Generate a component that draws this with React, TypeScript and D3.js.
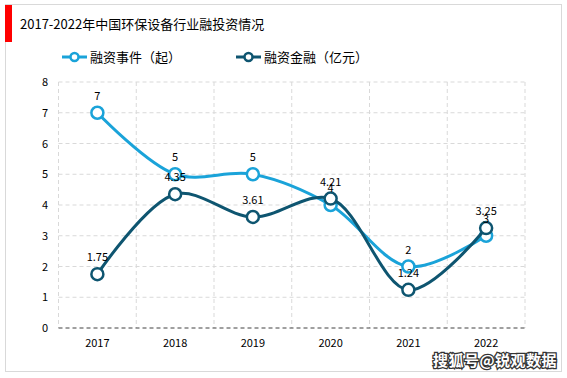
import React from "react";
import * as d3 from "d3";

const years = ["2017", "2018", "2019", "2020", "2021", "2022"];
const events = [7, 5, 5, 4, 2, 3];
const amounts = [1.75, 4.35, 3.61, 4.21, 1.24, 3.25];
const eventLabels = ["7", "5", "5", "4", "2", "3"];
const amountLabels = ["1.75", "4.35", "3.61", "4.21", "1.24", "3.25"];
const yTicks = [0, 1, 2, 3, 4, 5, 6, 7, 8];
const seriesNames = ["融资事件（起）", "融资金融（亿元）"];
const title = "2017-2022年中国环保设备行业融投资情况";

const W = 567, H = 378;
const plot = { left: 58.5, right: 525, top: 82, bottom: 328 };
const C1 = "#1aa3d9";
const C2 = "#0e5570";
const FONT = "'Microsoft YaHei','Noto Sans CJK SC','Liberation Sans',sans-serif";

export default function App() {
  const x = d3.scaleBand().domain(years).range([plot.left, plot.right]);
  const y = d3.scaleLinear().domain([0, 8]).range([plot.bottom, plot.top]);
  const cx = (yr: string) => (x(yr) as number) + x.bandwidth() / 2;
  const line = d3.line<number>()
    .x((_, i) => cx(years[i]))
    .y((d) => y(d))
    .curve(d3.curveCatmullRom.alpha(0.5));
  const series = [
    { vals: events, labels: eventLabels, color: C1 },
    { vals: amounts, labels: amountLabels, color: C2 },
  ];
  return (
    <svg width={W} height={H} style={{ position: "absolute", left: 0, top: 0, fontFamily: FONT }}>
      <rect x={0} y={0} width={W} height={H} fill="#fff" />
      <rect x={5.5} y={4.5} width={556} height={367} fill="#fff" stroke="#d9d9d9" strokeWidth={1} />
      <rect x={5} y={5} width={7} height={37} fill="#ff0000" />
      <text x={20} y={29} fontSize={13} fill="#000">{title}</text>
      {/* legend */}
      {[0, 1].map((i) => {
        const lx = i === 0 ? 62 : 236;
        const col = i === 0 ? C1 : C2;
        return (
          <g key={i}>
            <line x1={lx} x2={lx + 25} y1={57} y2={57} stroke={col} strokeWidth={3} />
            <circle cx={lx + 12.5} cy={57} r={4} fill="#fff" stroke={col} strokeWidth={2.5} />
            <text x={lx + 28} y={62} fontSize={13} fill="#000">{seriesNames[i]}</text>
          </g>
        );
      })}
      {/* grid */}
      {yTicks.filter((t) => t > 0).map((t) => (
        <line key={t} x1={plot.left} x2={plot.right} y1={y(t)} y2={y(t)} stroke="#d9d9d9" strokeDasharray="4,3" />
      ))}
      {years.map((yr) => (
        <line key={yr} x1={(x(yr) as number) + x.bandwidth()} x2={(x(yr) as number) + x.bandwidth()} y1={plot.top} y2={plot.bottom} stroke="#d9d9d9" strokeDasharray="4,3" />
      ))}
      <line x1={plot.left} x2={plot.left} y1={plot.top} y2={plot.bottom} stroke="#d9d9d9" strokeDasharray="4,3" />
      <line x1={plot.left} x2={plot.right} y1={plot.bottom} y2={plot.bottom} stroke="#404040" strokeDasharray="4,3" />
      {yTicks.map((t) => (
        <text key={t} x={48} y={y(t) + 4} fontSize={11} textAnchor="end" fill="#000">{t}</text>
      ))}
      {years.map((yr) => (
        <text key={yr} x={cx(yr)} y={plot.bottom + 19} fontSize={11} textAnchor="middle" fill="#000">{yr}</text>
      ))}
      {series.map((s, si) => (
        <g key={si}>
          <path d={line(s.vals) || ""} fill="none" stroke={s.color} strokeWidth={3} />
          {s.vals.map((v, i) => (
            <circle key={i} cx={cx(years[i])} cy={y(v)} r={6} fill="#fff" stroke={s.color} strokeWidth={2.5} />
          ))}
        </g>
      ))}
      {series.map((s, si) => (
        <g key={"l" + si}>
          {s.vals.map((v, i) => (
            <text key={i} x={cx(years[i])} y={y(v) - 13} fontSize={11} textAnchor="middle" fill="#000">{s.labels[i]}</text>
          ))}
        </g>
      ))}
      <text x={557} y={366} fontSize={15} fontWeight="bold" textAnchor="end" fill="#fff" stroke="#333" strokeWidth={2.5} paintOrder="stroke" letterSpacing={0.5}>搜狐号@锐观数据</text>
    </svg>
  );
}
